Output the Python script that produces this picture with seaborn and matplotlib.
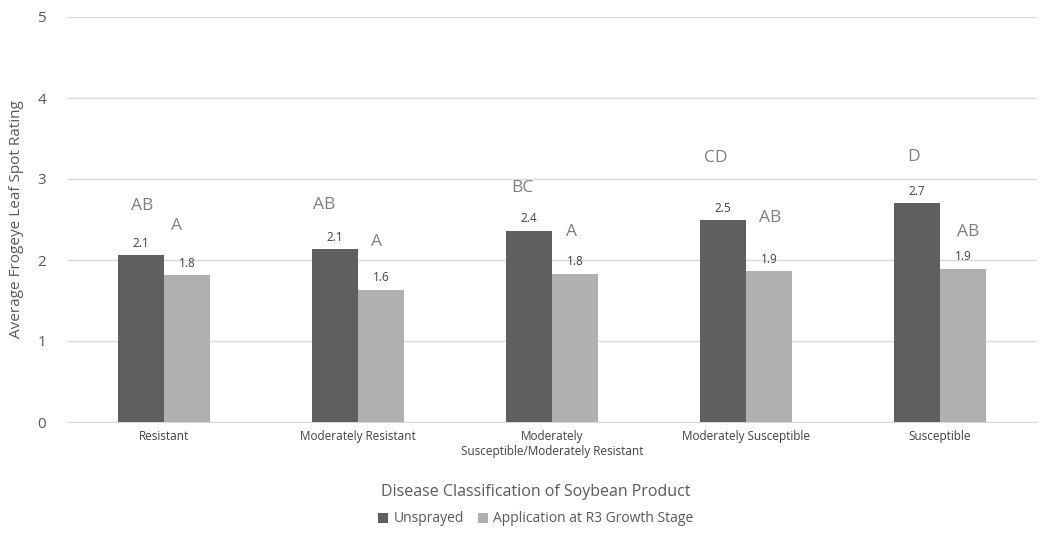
import matplotlib
matplotlib.use("Agg")
import matplotlib.pyplot as plt
import seaborn as sns
import pandas as pd

categories = ["Resistant", "Moderately Resistant",
              "Moderately\nSusceptible/Moderately Resistant",
              "Moderately Susceptible", "Susceptible"]
unsprayed = [2.06, 2.13, 2.36, 2.49, 2.70]
applied = [1.81, 1.63, 1.83, 1.86, 1.89]
series = ["Unsprayed", "Application at R3 Growth Stage"]
letters_unsprayed = ["AB", "AB", "BC", "CD", "D"]
letters_applied = ["A", "A", "A", "AB", "AB"]
letters_unsprayed_y = [2.67, 2.68, 2.89, 3.26, 3.27]
letters_applied_y = [2.42, 2.22, 2.35, 2.52, 2.35]
letters_unsprayed_dx = [-0.113, -0.175, -0.155, -0.155, -0.134]
letters_applied_dx = [0.062, 0.093, 0.103, 0.124, 0.144]

df = pd.DataFrame({
    "Category": categories * 2,
    "Series": [series[0]] * 5 + [series[1]] * 5,
    "Rating": unsprayed + applied,
})

sns.set_style("white")
plt.rcParams["font.family"] = ["Open Sans", "DejaVu Sans"]
text_c = "#595959"

fig = plt.figure(figsize=(10.49, 5.38), dpi=100)
ax = fig.add_axes([67 / 1049, 1 - 422 / 538, (1037 - 67) / 1049, (422 - 17) / 538])

sns.barplot(data=df, x="Category", y="Rating", hue="Series", order=categories,
            hue_order=series, palette=["#5f5f5f", "#b0b0b0"], width=0.474,
            gap=0, saturation=1, ax=ax, legend=True, zorder=3, linewidth=0)

for cont in ax.containers:
    ax.bar_label(cont, fmt="%.1f", padding=4, fontsize=8.5, color="#404040")

for i in range(len(categories)):
    ax.text(i + letters_unsprayed_dx[i], letters_unsprayed_y[i], letters_unsprayed[i],
            ha="center", va="center", fontsize=12.5, color="#7f7f7f")
    ax.text(i + letters_applied_dx[i], letters_applied_y[i], letters_applied[i],
            ha="center", va="center", fontsize=12.5, color="#7f7f7f")

ax.set_ylim(0, 5)
ax.set_xlim(-0.5, 4.5)
ax.set_yticks([0, 1, 2, 3, 4, 5])
ax.yaxis.grid(True, color="#d9d9d9", linewidth=1, zorder=0)
ax.set_axisbelow(True)
for s in ["top", "right", "left"]:
    ax.spines[s].set_visible(False)
ax.spines["bottom"].set_color("#d9d9d9")
ax.tick_params(axis="both", length=0)
ax.tick_params(axis="y", labelsize=11, labelcolor=text_c, pad=15)
ax.tick_params(axis="x", labelsize=8.5, labelcolor="#404040", pad=6)

ax.set_ylabel("Average Frogeye Leaf Spot Rating", fontsize=11, color=text_c, labelpad=10)
ax.set_xlabel("Disease Classification of Soybean Product", fontsize=11.5, color=text_c)
ax.xaxis.set_label_coords((536 - 67) / 970, -(492 - 422) / 405, transform=ax.transAxes)
ax.xaxis.label.set_verticalalignment("center")

ax.legend(loc="center", bbox_to_anchor=(536 / 1049, 1 - 519 / 538),
          bbox_transform=fig.transFigure, ncol=2, frameon=False, fontsize=10,
          handlelength=0.7, handleheight=0.7, handletextpad=0.4, columnspacing=1.0,
          labelcolor=text_c)

fig.savefig("out.png", dpi=100, facecolor="white")
